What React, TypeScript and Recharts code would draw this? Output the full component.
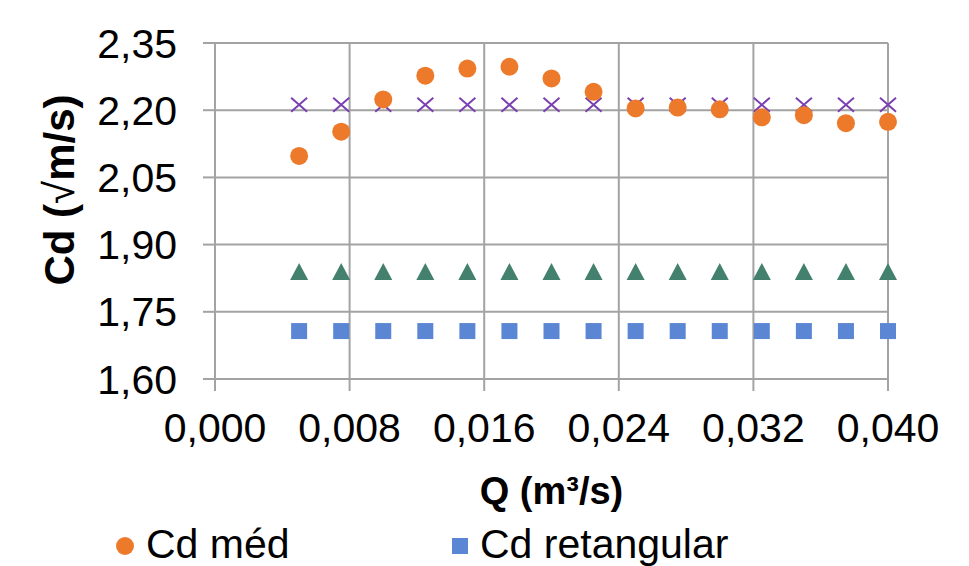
import { CartesianGrid, Scatter, ScatterChart, XAxis, YAxis } from "recharts";

const qValues = [0.005, 0.0075, 0.01, 0.0125, 0.015, 0.0175, 0.02, 0.0225, 0.025, 0.0275, 0.03, 0.0325, 0.035, 0.0375, 0.04];
const cdMed = [2.098, 2.152, 2.224, 2.277, 2.293, 2.297, 2.271, 2.241, 2.204, 2.206, 2.202, 2.184, 2.189, 2.171, 2.174];
const cdRetangular = [1.707, 1.707, 1.707, 1.707, 1.707, 1.707, 1.707, 1.707, 1.707, 1.707, 1.707, 1.707, 1.707, 1.707, 1.707];
const cdTriangular = [1.839, 1.839, 1.839, 1.839, 1.839, 1.839, 1.839, 1.839, 1.839, 1.839, 1.839, 1.839, 1.839, 1.839, 1.839];
const cdTeorico = [2.212, 2.212, 2.212, 2.212, 2.212, 2.212, 2.212, 2.212, 2.212, 2.212, 2.212, 2.212, 2.212, 2.212, 2.212];

const xTicks = [0, 0.008, 0.016, 0.024, 0.032, 0.04];
const yTicks = [1.6, 1.75, 1.9, 2.05, 2.2, 2.35];

const legendItems = [
  { name: "Cd méd", color: "#EC7A2A", shape: "circle" },
  { name: "Cd retangular", color: "#5B86D4", shape: "square" },
];

const toPoints = (ys: number[]) => qValues.map((q, i) => ({ q, cd: ys[i] }));

const FONT = "'Liberation Sans', Arial, sans-serif";
const GRID = "#a3a3a3";

const Circle = (p: any) => <circle cx={p.cx} cy={p.cy} r={9} fill="#EC7A2A" />;
const Square = (p: any) => <rect x={p.cx - 8} y={p.cy - 8} width={16} height={16} fill="#5B86D4" />;
const Triangle = (p: any) => (
  <path d={`M${p.cx},${p.cy - 9} L${p.cx + 9},${p.cy + 8} L${p.cx - 9},${p.cy + 8} Z`} fill="#43806D" />
);
const Cross = (p: any) => (
  <path
    d={`M${p.cx - 8},${p.cy - 7} L${p.cx + 8},${p.cy + 7} M${p.cx - 8},${p.cy + 7} L${p.cx + 8},${p.cy - 7}`}
    stroke="#7A40B0"
    strokeWidth={2}
    fill="none"
  />
);

const fmt = (v: number, d: number) => v.toFixed(d).replace(".", ",");

export default function App() {
  return (
    <div style={{ position: "absolute", left: 0, top: 0, width: 969, height: 566, background: "#fff", overflow: "hidden" }}>
      <ScatterChart width={969} height={566} margin={{ top: 43, right: 81, bottom: 0, left: 0 }}>
        <CartesianGrid stroke={GRID} strokeWidth={2} />
        <XAxis
          type="number"
          dataKey="q"
          domain={[0, 0.04]}
          ticks={xTicks}
          tickFormatter={(v) => fmt(v, 3)}
          height={187}
          stroke={GRID}
          strokeWidth={2}
          tickSize={12}
          tickMargin={22}
          tick={{ fill: "#000", fontSize: 41, fontFamily: FONT }}
          label={{
            value: "Q (m³/s)",
            position: "insideTop",
            offset: 98,
            style: { fill: "#000", fontSize: 38, fontWeight: 700, fontFamily: FONT },
          }}
        />
        <YAxis
          type="number"
          dataKey="cd"
          domain={[1.6, 2.35]}
          ticks={yTicks}
          tickFormatter={(v) => fmt(v, 2)}
          width={215}
          stroke={GRID}
          strokeWidth={2}
          tickSize={12}
          tickMargin={26}
          tick={{ fill: "#000", fontSize: 41, fontFamily: FONT }}
          label={{
            content: () => {
              const cx = 59;
              const cy = 190;
              return (
                <text
                  x={cx}
                  y={cy}
                  transform={`rotate(-90, ${cx}, ${cy})`}
                  textAnchor="middle"
                  dominantBaseline="central"
                  style={{ fill: "#000", fontSize: 42, fontWeight: 700, fontFamily: FONT }}
                >
                  Cd (<tspan fontWeight={400}>√</tspan>m/s)
                </text>
              );
            },
          }}
        />
        <Scatter name="Cd teórico" data={toPoints(cdTeorico)} shape={Cross} isAnimationActive={false} />
        <Scatter name="Cd triangular" data={toPoints(cdTriangular)} shape={Triangle} isAnimationActive={false} />
        <Scatter name="Cd retangular" data={toPoints(cdRetangular)} shape={Square} isAnimationActive={false} />
        <Scatter name="Cd méd" data={toPoints(cdMed)} shape={Circle} isAnimationActive={false} />
      </ScatterChart>
      <div style={{ position: "absolute", left: 116, top: 524, display: "flex", fontFamily: FONT, fontSize: 41, lineHeight: "41px", color: "#000" }}>
        {legendItems.map((it, i) => (
          <div key={it.name} style={{ display: "flex", alignItems: "center", width: i === 0 ? 336 : 400 }}>
            <span
              style={{
                display: "inline-block",
                width: it.shape === "circle" ? 18 : 16,
                height: it.shape === "circle" ? 18 : 16,
                borderRadius: it.shape === "circle" ? "50%" : 0,
                background: it.color,
                marginRight: 12,
                marginTop: 2,
              }}
            />
            <span>{it.name}</span>
          </div>
        ))}
      </div>
    </div>
  );
}
